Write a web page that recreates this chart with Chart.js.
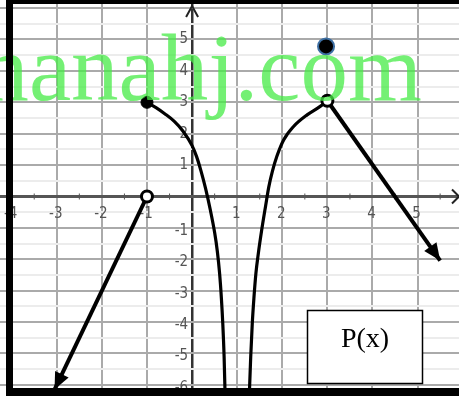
<!DOCTYPE html>
<html>
<head>
<meta charset="utf-8">
<script src="https://cdn.jsdelivr.net/npm/chart.js@4"></script>
<style>
  html, body { margin: 0; padding: 0; background: #fff; }
  #wrap { width: 459px; height: 396px; }
</style>
</head>
<body>
<div id="wrap"><canvas id="graph" width="459" height="396"></canvas></div>
<script>
// values
const rayLeft = [[-3.05, -6.15], [-1, 0]];
const curveLeft = [[-1, 3], [-0.8, 2.83], [-0.6, 2.63], [-0.4, 2.4], [-0.2, 2.08], [0, 1.62], [0.1, 1.27],
    [0.2, 0.8], [0.3, 0.25], [0.4, -0.4], [0.5, -1.15], [0.56, -1.75], [0.61, -2.45], [0.65, -3.25],
    [0.68, -4.03], [0.71, -5.1], [0.733, -6.4]];
const curveRight = [[1.267, -6.4], [1.3, -5.1], [1.335, -4.03], [1.37, -3.25], [1.415, -2.45], [1.47, -1.8],
    [1.54, -1.1], [1.63, -0.3], [1.7, 0.3], [1.78, 0.8], [1.88, 1.28], [2.03, 1.8], [2.25, 2.23],
    [2.55, 2.6], [2.84, 2.87], [3, 3.05]];
const rayRight = [[3, 3.05], [5.5, -2.04]];
const filledPts = [[-1, 3]];
const bluePts = [[2.97, 4.78]];
const openPts = [[-1, 0], [3, 3.05]];
const xTickLabels = [-4, -3, -2, -1, 1, 2, 3, 4, 5];
const yTickLabels = [5, 4, 3, 2, 1, -1, -2, -3, -4, -5, -6];
const boxLabel = 'P(x)';
const watermark = 'manahj.com';

const toXY = arr => arr.map(p => ({ x: p[0], y: p[1] }));

function lineSet(arr, width, smooth, arrowAt) {
    return {
        data: toXY(arr),
        showLine: true,
        borderColor: '#000',
        borderWidth: width,
        pointRadius: 0,
        tension: smooth ? 0.4 : 0,
        cubicInterpolationMode: smooth ? 'monotone' : 'default',
        arrowAt: arrowAt
    };
}

// tick labels, arrows on axes, watermark, the P(x) box and the frame
const decor = {
    id: 'decor',
    beforeDatasetsDraw(chart) {
        const ctx = chart.ctx;
        const xs = chart.scales.x, ys = chart.scales.y;
        const x0 = xs.getPixelForValue(0), y0 = ys.getPixelForValue(0);
        ctx.save();
        // small half-unit marks on the x axis
        ctx.strokeStyle = '#555';
        ctx.lineWidth = 1;
        for (let v = -4.5; v < 6; v += 1) {
            const px = xs.getPixelForValue(v);
            ctx.beginPath(); ctx.moveTo(px, y0 - 3); ctx.lineTo(px, y0 + 3); ctx.stroke();
        }
        // axis arrows
        ctx.strokeStyle = '#222';
        ctx.lineWidth = 2;
        ctx.beginPath();
        ctx.moveTo(x0 - 6, 17); ctx.lineTo(x0, 6); ctx.lineTo(x0 + 6, 17);
        ctx.stroke();
        ctx.beginPath();
        ctx.moveTo(452, y0 - 7); ctx.lineTo(459, y0); ctx.lineTo(452, y0 + 7);
        ctx.stroke();
        // tick labels
        ctx.fillStyle = '#555';
        ctx.font = '15px "Liberation Sans Narrow", "DejaVu Sans Condensed", sans-serif';
        ctx.textAlign = 'center';
        ctx.textBaseline = 'middle';
        xTickLabels.forEach(v => ctx.fillText(String(v), xs.getPixelForValue(v) - 1, y0 + 18));
        ctx.textAlign = 'right';
        yTickLabels.forEach(v => ctx.fillText(String(v), x0 - 4, ys.getPixelForValue(v) + (v < 0 ? 3 : 0)));
        ctx.restore();
    },
    afterDatasetsDraw(chart) {
        const ctx = chart.ctx;
        ctx.save();
        // arrowheads at the ends of the rays
        chart.data.datasets.forEach((ds, i) => {
            if (!ds.arrowAt) return;
            const pts = chart.getDatasetMeta(i).data;
            let tip, from;
            if (ds.arrowAt === 'start') { tip = pts[0]; from = pts[1]; }
            else { tip = pts[pts.length - 1]; from = pts[pts.length - 2]; }
            const ang = Math.atan2(tip.y - from.y, tip.x - from.x);
            const len = 17, half = 7.5;
            ctx.fillStyle = '#000';
            ctx.beginPath();
            ctx.moveTo(tip.x, tip.y);
            ctx.lineTo(tip.x - len * Math.cos(ang) + half * Math.sin(ang), tip.y - len * Math.sin(ang) - half * Math.cos(ang));
            ctx.lineTo(tip.x - len * Math.cos(ang) - half * Math.sin(ang), tip.y - len * Math.sin(ang) + half * Math.cos(ang));
            ctx.closePath();
            ctx.fill();
        });
        // watermark
        ctx.fillStyle = 'rgba(70, 235, 70, 0.75)';
        ctx.font = '95px "Liberation Serif", "DejaVu Serif", serif';
        ctx.textAlign = 'left';
        ctx.textBaseline = 'alphabetic';
        ctx.fillText(watermark, -45, 100);
        // P(x) box
        ctx.fillStyle = '#fff';
        ctx.fillRect(307, 310, 116, 74);
        ctx.strokeStyle = '#000';
        ctx.lineWidth = 1.5;
        ctx.strokeRect(307.5, 310.5, 115, 73);
        ctx.fillStyle = '#000';
        ctx.font = '28px "Liberation Serif", serif';
        ctx.textAlign = 'center';
        ctx.textBaseline = 'middle';
        ctx.fillText(boxLabel, 365, 340);
        // frame
        ctx.fillRect(6, 0, 453, 4);
        ctx.fillRect(6, 0, 7, 396);
        ctx.fillRect(6, 388, 453, 8);
        ctx.restore();
    }
};

const gridX = {
    color: c => c.tick && c.tick.value === 0 ? '#333' : '#aaa',
    lineWidth: c => c.tick && c.tick.value === 0 ? 2.5 : 2,
    drawTicks: false
};
const gridY = {
    color: c => {
        const v = c.tick ? c.tick.value : 1;
        if (v === 0) return '#555';
        return Number.isInteger(v) ? '#aaa' : '#ececec';
    },
    lineWidth: c => c.tick && c.tick.value === 0 ? 3 : 2,
    drawTicks: false
};

new Chart(document.getElementById('graph').getContext('2d'), {
    type: 'scatter',
    data: {
        datasets: [
            { data: toXY(bluePts), pointRadius: 8, pointBackgroundColor: '#000', pointBorderColor: '#3d6fa3', pointBorderWidth: 2 },
            { data: toXY(openPts), pointRadius: 5.5, pointBackgroundColor: '#fff', pointBorderColor: '#000', pointBorderWidth: 3 },
            { data: toXY(filledPts), pointRadius: 6, pointBackgroundColor: '#000', pointBorderColor: '#000', pointBorderWidth: 1 },
            lineSet(rayLeft, 4, false, 'start'),
            lineSet(curveLeft, 3.2, true),
            lineSet(curveRight, 3.2, true),
            lineSet(rayRight, 4, false, 'end')
        ]
    },
    options: {
        responsive: false,
        animation: false,
        clip: false,
        layout: { padding: 0, autoPadding: false },
        plugins: { legend: { display: false }, tooltip: { enabled: false } },
        scales: {
            x: {
                type: 'linear', min: -4.259, max: 5.918,
                ticks: { display: false, stepSize: 1, includeBounds: false },
                grid: gridX,
                border: { display: false },
                afterFit: s => { s.height = 0; }
            },
            y: {
                type: 'linear', min: -6.354, max: 6.258,
                ticks: { display: false, stepSize: 0.5, includeBounds: false },
                grid: gridY,
                border: { display: false },
                afterFit: s => { s.width = 0; }
            }
        }
    },
    plugins: [decor]
});
</script>
</body>
</html>
